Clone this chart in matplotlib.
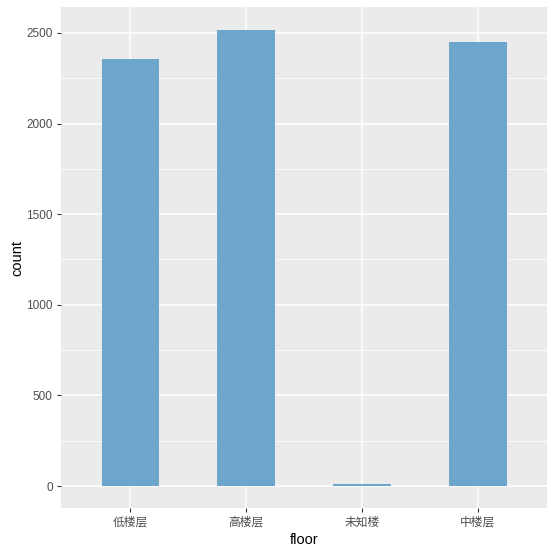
import matplotlib
matplotlib.use("Agg")
import matplotlib.pyplot as plt
import numpy as np

plt.rcParams['font.family'] = ['Liberation Sans', 'Noto Sans CJK SC', 'DejaVu Sans']

floors = ['低楼层', '高楼层', '未知楼', '中楼层']
counts = [2356, 2517, 11, 2450]

fig = plt.figure(figsize=(5.53, 5.52), dpi=100)
ax = fig.add_axes([61 / 553, 44 / 552, 486 / 553, 501 / 552])
ax.set_facecolor('#EBEBEB')

x = np.arange(1, len(floors) + 1)
ax.bar(x, counts, width=0.5, color='#6CA6CD', zorder=3)

ax.set_xlim(0.4, 4.6)
ax.set_ylim(-121, 2643)
ax.set_xticks(x)
ax.set_xticklabels(floors)
ax.set_yticks([0, 500, 1000, 1500, 2000, 2500])
ax.set_yticks([250, 750, 1250, 1750, 2250], minor=True)

ax.grid(which='major', color='white', linewidth=1.1, zorder=0)
ax.grid(which='minor', axis='y', color='white', linewidth=0.55, zorder=0)
ax.set_axisbelow(True)
for s in ax.spines.values():
    s.set_visible(False)

ax.tick_params(which='major', length=3, width=0.8, color='#333333',
               labelcolor='#4D4D4D', labelsize=8.5, pad=3)
ax.tick_params(which='minor', length=0)

ax.set_xlabel('floor', fontsize=10.5, color='black', labelpad=3)
ax.set_ylabel('count', fontsize=10.5, color='black', labelpad=1)

fig.savefig('out.png', dpi=100)
